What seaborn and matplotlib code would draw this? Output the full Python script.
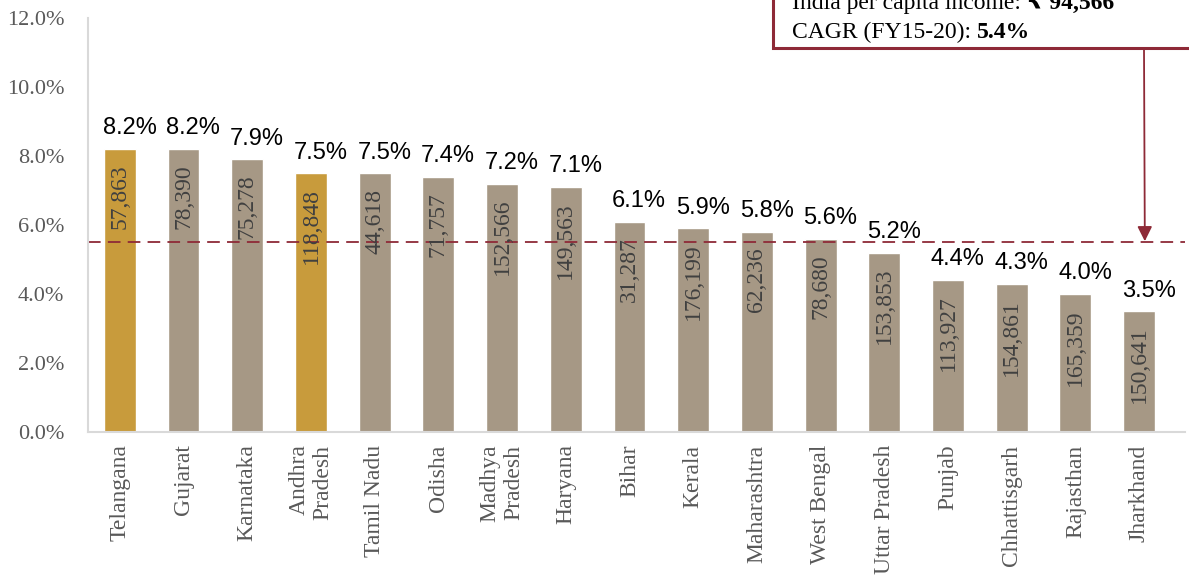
import matplotlib
matplotlib.use("Agg")
import pandas as pd
import seaborn as sns
import matplotlib.pyplot as plt
from matplotlib.patches import Rectangle

states = ["Telangana", "Gujarat", "Karnataka", "Andhra\nPradesh", "Tamil Nadu",
          "Odisha", "Madhya\nPradesh", "Haryana", "Bihar", "Kerala", "Maharashtra",
          "West Bengal", "Uttar Pradesh", "Punjab", "Chhattisgarh", "Rajasthan",
          "Jharkhand"]
cagr = [8.2, 8.2, 7.9, 7.5, 7.5, 7.4, 7.2, 7.1, 6.1, 5.9, 5.8, 5.6, 5.2, 4.4, 4.3, 4.0, 3.5]
income = ["57,863", "78,390", "75,278", "118,848", "44,618", "71,757", "152,566",
          "149,563", "31,287", "176,199", "62,236", "78,680", "153,853", "113,927",
          "154,861", "165,359", "150,641"]
highlight = ["Telangana", "Andhra\nPradesh"]
india_income = "94,566"
india_cagr = 5.4
india_line = 5.5

GOLD = "#C89B3C"
TAUPE = "#A69885"
RED = "#8E2A37"

df = pd.DataFrame({"state": states, "cagr": cagr, "income": income})
palette = {s: (GOLD if s in highlight else TAUPE) for s in states}

sns.set_style("white")
plt.rcParams["font.family"] = ["Liberation Serif", "DejaVu Sans"]

fig = plt.figure(figsize=(11.89, 5.76), dpi=100)
ax = fig.add_axes([0.074, 0.25, 0.9226, 0.71875])

sns.barplot(data=df, x="state", y="cagr", hue="state", palette=palette,
            legend=False, width=0.5, ax=ax, saturation=1)

for i, row in df.iterrows():
    ax.annotate(f"{row['cagr']:.1f}%", xy=(i, row["cagr"]), xytext=(7, 7),
                textcoords="offset points", ha="center", va="bottom",
                fontsize=17, family="Liberation Sans", color="black")
    ax.annotate(row["income"], xy=(i, row["cagr"]), xytext=(0, -11),
                textcoords="offset points", ha="center", va="top",
                rotation=90, fontsize=17, color="#404040")

ax.axhline(india_line, color=RED, lw=1.3, ls=(0, (7, 4)))

ax.set_ylim(0, 12)
ax.set_xlim(-0.5, 16.72)
ax.set_yticks(range(0, 13, 2))
ax.yaxis.set_major_formatter(lambda v, pos: f"{v:.1f}%")
ax.set_xlabel("")
ax.set_ylabel("")
ax.tick_params(axis="y", length=0, pad=17, labelsize=16, labelcolor="#595959")
ax.tick_params(axis="x", length=0, pad=9, labelsize=17, labelcolor="#595959")
for lbl in ax.get_xticklabels():
    lbl.set_rotation(90)
    lbl.set_multialignment("right")
for side in ["top", "right"]:
    ax.spines[side].set_visible(False)
for side in ["left", "bottom"]:
    ax.spines[side].set_color("#D9D9D9")
    ax.spines[side].set_linewidth(1.5)

# callout box (top is cut off by the figure edge, as in the original)
W, H = 1189, 576
box = Rectangle((773 / W, 1 - 48 / H), 0.4, 0.2, transform=fig.transFigure,
                facecolor="white", edgecolor=RED, lw=2.2, clip_on=False, zorder=5)
ax.add_patch(box)
t1 = ax.text(792 / W, 1 - 9 / H, "India per capita income: ", fontsize=17,
             color="black", va="baseline", transform=fig.transFigure,
             clip_on=False, zorder=6)
ax.annotate("\u20b9 " + india_income, xy=(1, 0), xycoords=t1, va="bottom",
            fontsize=17, fontweight="bold", color="black", zorder=6,
            annotation_clip=False)
t2 = ax.text(792 / W, 1 - 38 / H, "CAGR (FY15-20): ", fontsize=17,
             color="black", va="baseline", transform=fig.transFigure,
             clip_on=False, zorder=6)
ax.annotate(f"{india_cagr}%", xy=(1, 0), xycoords=t2, va="bottom",
            fontsize=17, fontweight="bold", color="black", zorder=6,
            annotation_clip=False)

ax.annotate("", xy=(16.09, india_line + 0.03), xycoords="data",
            xytext=(1144 / W, 1 - 48 / H), textcoords="figure fraction",
            arrowprops=dict(arrowstyle="-|>", color=RED, lw=1.3,
                            mutation_scale=22, shrinkA=0, shrinkB=0),
            zorder=6)

fig.savefig("out.png", dpi=100)
